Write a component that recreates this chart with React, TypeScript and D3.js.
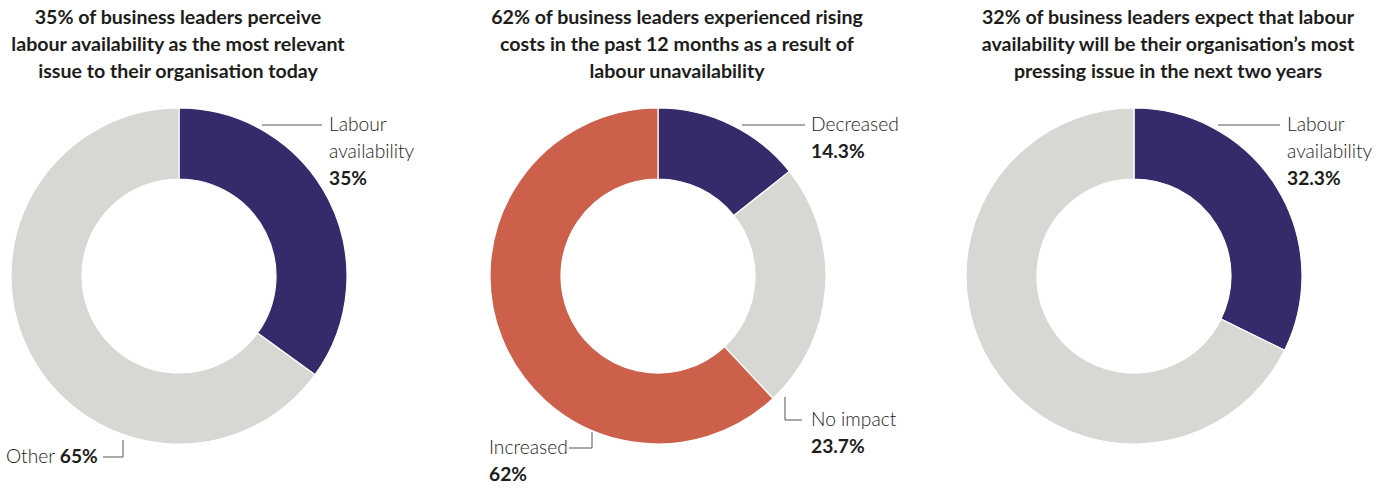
import React from "react";
import * as d3 from "d3";

// chart data
const titles = [
  ["35% of business leaders perceive", "labour availability as the most relevant", "issue to their organisation today"],
  ["62% of business leaders experienced rising", "costs in the past 12 months as a result of", "labour unavailability"],
  ["32% of business leaders expect that labour", "availability will be their organisation\u2019s most", "pressing issue in the next two years"],
];
const currentIssue = [
  { label: "Labour availability", value: 35, color: "#372a6b" },
  { label: "Other", value: 65, color: "#d7d7d3" },
];
const costImpact = [
  { label: "Decreased", value: 14.3, color: "#372a6b" },
  { label: "No impact", value: 23.7, color: "#d7d7d3" },
  { label: "Increased", value: 62, color: "#cd604b" },
];
const futureIssue = [
  { label: "Labour availability", value: 32.3, color: "#372a6b" },
  { label: "Other", value: 67.7, color: "#d7d7d3" },
];

const WIDTH = 1389;
const HEIGHT = 488;
const R_OUT = 168;
const R_IN = 97;
const CY = 276;
const FONT = "Lato, 'Open Sans', sans-serif";
const TEXT = "#1d1d1b";
const LINE = "#555";
const TITLE_SIZE = 19.6;
const LABEL_SIZE = 19.2;

type Slice = { label: string; value: number; color: string };

const pie = d3.pie<Slice>().sort(null).value((d) => d.value);
const arc = d3.arc<d3.PieArcDatum<Slice>>().innerRadius(R_IN).outerRadius(R_OUT);

function Donut({ cx, data }: { cx: number; data: Slice[] }) {
  return (
    <g transform={`translate(${cx},${CY})`}>
      {pie(data).map((d) => (
        <path key={d.data.label} d={arc(d)!} fill={d.data.color} stroke="#fff" strokeWidth={1.2} />
      ))}
    </g>
  );
}

function Title({ x, lines }: { x: number; lines: string[] }) {
  return (
    <text x={x} textAnchor="middle" fontFamily={FONT} fontWeight={700} fontSize={TITLE_SIZE} fill={TEXT}>
      {lines.map((l, i) => (
        <tspan key={i} x={x} y={24 + i * 27}>{l}</tspan>
      ))}
    </text>
  );
}

// label lines: normal text then bold value
function Label({ x, y, lines, value }: { x: number; y: number; lines: string[]; value: string }) {
  return (
    <text x={x} fontFamily={FONT} fontSize={LABEL_SIZE} fill={TEXT}>
      {lines.map((l, i) => (
        <tspan key={i} x={x} y={y + i * 27} fontWeight={300}>{l}</tspan>
      ))}
      <tspan x={x} y={y + lines.length * 27} fontWeight={700}>{value}</tspan>
    </text>
  );
}

export default function App() {
  const c1 = 179, c2 = 658, c3 = 1134;
  const fmt = (v: number) => `${v}%`;
  return (
    <svg width={WIDTH} height={HEIGHT} style={{ position: "absolute", left: 0, top: 0, background: "#fff" }}>
      <Title x={178} lines={titles[0]} />
      <Title x={677} lines={titles[1]} />
      <Title x={1168} lines={titles[2]} />

      <Donut cx={c1} data={currentIssue} />
      <Donut cx={c2} data={costImpact} />
      <Donut cx={c3} data={futureIssue} />

      {/* chart 1 annotations */}
      <line x1={c1 + 83} x2={c1 + 143} y1={125} y2={125} stroke={LINE} strokeWidth={1} />
      <Label x={c1 + 150} y={131} lines={["Labour", "availability"]} value={fmt(currentIssue[0].value)} />
      <polyline points={`${c1 - 76},457 ${c1 - 56},457 ${c1 - 56},440`} fill="none" stroke={LINE} strokeWidth={1} />
      <text x={6} y={463} fontFamily={FONT} fontSize={LABEL_SIZE} fill={TEXT}>
        <tspan fontWeight={300}>Other </tspan>
        <tspan fontWeight={700}>{fmt(currentIssue[1].value)}</tspan>
      </text>

      {/* chart 2 annotations */}
      <line x1={c2 + 84} x2={c2 + 147} y1={125} y2={125} stroke={LINE} strokeWidth={1} />
      <Label x={c2 + 153} y={131} lines={["Decreased"]} value={fmt(costImpact[0].value)} />
      <polyline points={`${c2 + 127},397 ${c2 + 127},420 ${c2 + 144},420`} fill="none" stroke={LINE} strokeWidth={1} />
      <Label x={c2 + 153} y={426} lines={["No impact"]} value={fmt(costImpact[1].value)} />
      <polyline points={`${c2 - 89},448 ${c2 - 66},448 ${c2 - 66},432`} fill="none" stroke={LINE} strokeWidth={1} />
      <Label x={489} y={454} lines={["Increased"]} value={fmt(costImpact[2].value)} />

      {/* chart 3 annotations */}
      <line x1={c3 + 84} x2={c3 + 146} y1={125} y2={125} stroke={LINE} strokeWidth={1} />
      <Label x={c3 + 153} y={131} lines={["Labour", "availability"]} value={fmt(futureIssue[0].value)} />
    </svg>
  );
}
